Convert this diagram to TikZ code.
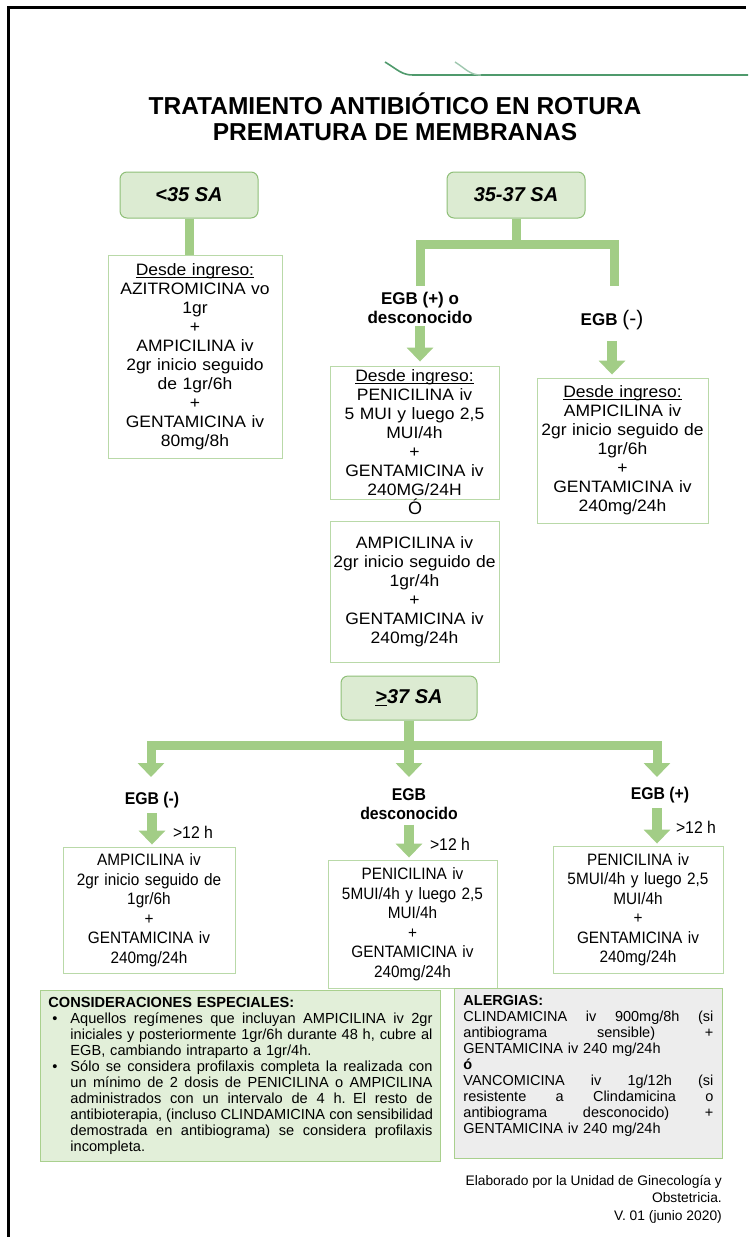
\documentclass[tikz,border=0pt]{standalone}
\usepackage{fontspec}
\setmainfont{Liberation Sans}
\newfontfamily\widesf{Liberation Sans}[FakeStretch=1.06]
\newfontfamily\narrowsf{Liberation Sans}[FakeStretch=0.93]
\usetikzlibrary{arrows.meta}

\definecolor{hdrfill}{HTML}{DCEBD2}
\definecolor{hdrline}{HTML}{8FBF78}
\definecolor{bargreen}{HTML}{A2CD86}
\definecolor{boxline}{HTML}{B9D9A8}
\definecolor{notefill}{HTML}{E2EFD9}
\definecolor{noteline}{HTML}{A9D08E}
\definecolor{allergyfill}{HTML}{EDEDED}
\definecolor{deco}{HTML}{4F9A6C}

% a line spread to a given width (justified): spaces get infinite stretch
\newcommand{\jl}[2]{\leavevmode\hbox to #1{\spaceskip=0.278em plus 1fil\relax #2}}
% bullet with hanging indent
\newcommand{\bul}{\makebox[22pt][l]{\hspace{4pt}•}}
\newcommand{\ind}{\hspace*{22pt}}
% underline set close to the baseline
\newcommand{\ul}[1]{\setbox0\hbox{#1}\rlap{\rule[-2.2pt]{\wd0}{0.8pt}}\box0\relax}

\tikzset{
  hdr/.style={draw=hdrline, fill=hdrfill, rounded corners=7pt, line width=1pt,
    minimum width=138pt, minimum height=46pt,
    font=\fontsize{20}{24}\selectfont\bfseries\itshape},
  box/.style={draw=boxline, line width=0.9pt, fill=white, inner sep=0pt,
    align=center, font=\widesf\fontsize{16.5}{19}\selectfont},
  nbox/.style={box, font=\narrowsf\fontsize{16.5}{19.5}\selectfont},
  lbl/.style={font=\fontsize{17}{19}\selectfont\bfseries, align=center, inner sep=2pt},
  nlbl/.style={font=\narrowsf\fontsize{17}{19}\selectfont\bfseries, align=center, inner sep=2pt},
  gt/.style={anchor=west, inner sep=0pt, font=\narrowsf\fontsize{17}{19}\selectfont},
  bar/.style={draw=bargreen, line width=9pt, line join=miter},
  blockarrow/.style={draw=bargreen, line width=10pt,
    -{Triangle[width=26pt,length=14pt]}},
  twoheads/.style={draw=bargreen, line width=9pt, line join=miter,
    {Triangle[width=26pt,length=14pt]}-{Triangle[width=26pt,length=14pt]}},
}

\begin{document}
\begin{tikzpicture}[x=1pt,y=-1pt]
\useasboundingbox (0,0) rectangle (748,1237);

% page frame (left and top edges)
\draw[line width=2.6pt, line join=miter] (8.5,1237) -- (8.5,7.5) -- (746,7.5);

% decorative header line
\draw[deco, line width=1.6pt] (385,62) .. controls (398,70) and (402,75) .. (413,75) -- (748,75);
\draw[deco!55, line width=1.4pt] (455,62) .. controls (466,69) and (470,75) .. (481,75);

% title
\node[font=\fontsize{24.5}{26}\selectfont\bfseries, align=center] (title) at (395,117)
  {TRATAMIENTO ANTIBIÓTICO EN ROTURA\\PREMATURA DE MEMBRANAS};

% ---------- < 35 SA ----------
\node[hdr] (h1) at (189,195) {<35 SA};
\node[box, minimum width=174pt, minimum height=203pt, text width=172pt] (b1) at (195,356.5)
  {\ul{Desde ingreso:}\\AZITROMICINA vo\\1gr\\+\\AMPICILINA iv\\2gr inicio seguido\\de 1gr/6h\\+\\GENTAMICINA iv\\80mg/8h};
\draw[bar] (h1.south) -- (h1.south |- b1.north);

% ---------- 35-37 SA ----------
\node[hdr] (h2) at (516,195) {35-37 SA};
\coordinate (j2) at (516,244);
\coordinate (e2a) at (420,286);
\coordinate (e2b) at (614,286);
\draw[bar] (h2.south) -- (j2);
\draw[bar] (e2a) |- (j2) -| (e2b);

\node[lbl] (l2a) at (420,308) {EGB (+) o\\desconocido};
\node[lbl] (l2b) at (612,320) {EGB {\mdseries\fontsize{21}{21}\selectfont(-)}};

\node[box, minimum width=169pt, minimum height=133pt, text width=167pt] (b2a) at (414.5,432.5)
  {\ul{Desde ingreso:}\\PENICILINA iv\\5 MUI y luego 2,5\\MUI/4h\\+\\GENTAMICINA iv\\240MG/24H};
\node[font=\fontsize{18}{18}\selectfont] (or) at (415,507) {Ó};
\node[box, minimum width=169pt, minimum height=141pt, text width=167pt] (b2b) at (414.5,591.5)
  {AMPICILINA iv\\2gr inicio seguido de\\1gr/4h\\+\\GENTAMICINA iv\\240mg/24h};
\node[box, minimum width=171pt, minimum height=145pt, text width=169pt] (b2c) at (622.5,450.5)
  {\ul{Desde ingreso:}\\AMPICILINA iv\\2gr inicio seguido de\\1gr/6h\\+\\GENTAMICINA iv\\240mg/24h};

\draw[blockarrow, shorten >=4pt] (l2a.south) -- (l2a.south |- b2a.north);
\draw[blockarrow, shorten <=9pt, shorten >=3pt] (l2b.south) -- (l2b.south |- b2c.north);

% ---------- >= 37 SA ----------
\node[hdr, minimum width=136pt, minimum height=44pt] (h3) at (409,698) {\ul{>}37 SA};
\coordinate (j3) at (409,745);
\coordinate (t3a) at (151,777);
\coordinate (t3b) at (409,777);
\coordinate (t3c) at (657,777);
\draw[twoheads] (t3a) |- (j3) -| (t3c);
\draw[blockarrow] (h3.south) -- (t3b);

\node[nlbl] (l3a) at (152,800) {EGB (-)};
\node[nlbl] (l3b) at (409,804) {EGB\\desconocido};
\node[nlbl] (l3c) at (660,795) {EGB (+)};

\node[nbox, minimum width=172pt, minimum height=126pt, text width=170pt] (b3a) at (149,910)
  {AMPICILINA iv\\2gr inicio seguido de\\1gr/6h\\+\\GENTAMICINA iv\\240mg/24h};
\node[nbox, minimum width=169pt, minimum height=128pt, text width=167pt] (b3b) at (412.5,924)
  {PENICILINA iv\\5MUI/4h y luego 2,5\\MUI/4h\\+\\GENTAMICINA iv\\240mg/24h};
\node[nbox, minimum width=170pt, minimum height=127pt, text width=168pt] (b3c) at (638,909.5)
  {PENICILINA iv\\5MUI/4h y luego 2,5\\MUI/4h\\+\\GENTAMICINA iv\\240mg/24h};

\draw[blockarrow, shorten <=3pt, shorten >=2pt] (l3a.south) --
  node[gt, pos=0.6, xshift=16pt] {>12 h} (l3a.south |- b3a.north);
\draw[blockarrow, shorten <=3pt, shorten >=2pt] (l3b.south) --
  node[gt, pos=0.6, xshift=16pt] {>12 h} (l3b.south |- b3b.north);
\draw[blockarrow, shorten <=3pt, shorten >=2pt] ([xshift=-3pt]l3c.south) --
  node[gt, pos=0.55, xshift=14pt] {>12 h} ([xshift=-3pt]l3c.south |- b3c.north);

% ---------- notes ----------
\node[draw=noteline, fill=notefill, line width=0.9pt, anchor=north west,
      inner xsep=8pt, inner ysep=7pt, text width=384pt, align=left,
      font=\fontsize{14.6}{16}\selectfont] (cons) at (40,990)
  {{\bfseries CONSIDERACIONES ESPECIALES:}\\
   \bul\jl{362pt}{Aquellos regímenes que incluyan AMPICILINA iv 2gr}\\
   \ind\jl{362pt}{iniciales y posteriormente 1gr/6h durante 48 h, cubre al}\\
   \ind EGB, cambiando intraparto a 1gr/4h.\\
   \bul\jl{362pt}{Sólo se considera profilaxis completa la realizada con}\\
   \ind\jl{362pt}{un mínimo de 2 dosis de PENICILINA o AMPICILINA}\\
   \ind\jl{362pt}{administrados con un intervalo de 4 h. El resto de}\\
   \ind\jl{362pt}{antibioterapia, (incluso CLINDAMICINA con sensibilidad}\\
   \ind\jl{362pt}{demostrada en antibiograma) se considera profilaxis}\\
   \ind incompleta.};

\node[draw=noteline, fill=allergyfill, line width=0.9pt, anchor=north west,
      inner xsep=9pt, inner ysep=7pt, text width=250pt, align=left,
      font=\fontsize{14.5}{16}\selectfont] (alg) at (454,988)
  {{\bfseries ALERGIAS:}\\
   \jl{250pt}{CLINDAMICINA iv 900mg/8h (si}\\
   \jl{250pt}{antibiograma sensible) +}\\
   GENTAMICINA iv 240 mg/24h\\
   {\bfseries ó}\\
   \jl{250pt}{VANCOMICINA iv 1g/12h (si}\\
   \jl{250pt}{resistente a Clindamicina o}\\
   \jl{250pt}{antibiograma desconocido) +}\\
   GENTAMICINA iv 240 mg/24h\\[-2pt]
   \rule{0pt}{16pt}};

\node[anchor=north east, align=right, inner sep=0pt,
      font=\fontsize{13.8}{17.5}\selectfont] (foot) at (722,1175)
  {Elaborado por la Unidad de Ginecología y\\Obstetricia.\\V. 01 (junio 2020)};
\end{tikzpicture}
\end{document}
